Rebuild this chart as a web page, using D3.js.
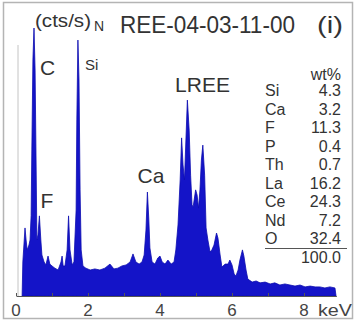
<!DOCTYPE html>
<html><head><meta charset="utf-8">
<script src="https://cdn.jsdelivr.net/npm/d3@7"></script>
<style>html,body{margin:0;padding:0;background:#fff;}svg{display:block;}</style>
</head><body>
<svg id="c" width="356" height="329"></svg>
<script>
// Spectrum (energy in keV, normalised counts)
const energy = [0.17,0.19,0.25,0.28,0.31,0.33,0.36,0.39,0.42,0.44,0.47,0.50,0.53,0.56,0.58,0.61,0.65,0.69,0.72,0.78,0.83,0.89,0.94,1.00,1.08,1.17,1.25,1.28,1.31,1.36,1.42,1.46,1.50,1.56,1.61,1.67,1.69,1.72,1.75,1.78,1.81,1.86,1.94,2.06,2.19,2.33,2.47,2.61,2.72,2.83,2.94,3.06,3.17,3.25,3.33,3.42,3.50,3.56,3.61,3.65,3.69,3.72,3.78,3.86,3.94,4.00,4.06,4.14,4.22,4.31,4.39,4.44,4.50,4.56,4.60,4.64,4.68,4.72,4.76,4.81,4.85,4.89,4.92,4.99,5.03,5.07,5.11,5.15,5.19,5.24,5.28,5.33,5.39,5.44,5.50,5.57,5.61,5.67,5.72,5.81,5.89,5.94,6.00,6.06,6.11,6.17,6.22,6.29,6.33,6.39,6.44,6.56,6.67,6.78,6.92,7.06,7.19,7.33,7.47,7.61,7.75,7.89,8.03,8.17,8.31,8.44,8.58,8.72,8.86,8.89];
const counts = [0,12.7,25.4,20.9,17.2,17.9,19.0,20.9,30.0,54.5,88.1,100,84.3,47.0,20.9,22.8,29.9,20.9,15.3,12.7,11.6,14.9,11.9,11.2,10.4,9.7,12.7,14.9,11.2,11.2,17.2,29.9,17.2,11.6,12.7,32.1,65.7,95.5,80.6,39.6,17.2,11.2,10.4,9.7,10.1,9.7,10.4,11.9,10.1,10.4,11.2,11.6,12.7,15.7,12.7,11.9,12.7,15.3,24.6,38.8,28.4,17.9,12.7,11.9,14.2,14.9,12.7,11.9,13.4,11.9,12.7,17.2,26.5,43.3,59.0,48.9,43.3,58.2,73.1,61.9,45.1,34.0,33.2,39.6,37.7,32.8,39.6,50.7,56.3,45.1,25.4,20.9,16.4,17.2,19.0,23.5,21.6,15.3,10.8,11.9,11.9,13.4,11.6,8.2,7.5,9.7,13.4,17.2,14.9,9.7,6.3,5.2,5.6,4.9,5.2,4.5,4.9,4.1,4.5,4.1,3.7,4.1,3.4,3.7,3.4,3.4,3.0,3.4,3.0,0];

const xTicks = [0,1,2,3,4,5,6,7,8];
const xTickLabels = [0,2,4,6,8];

// Peak labels: text, energy, counts (anchor point)
const peakNames = ["C","Si","F","Ca","LREE"];
const peakE = [0.88,1.92,0.86,3.75,5.18];
const peakC = [82.5,84.3,32.8,42.2,76.1];
const peakSize = [21,15,21,21,21];

// Composition table
const elements = ["Si","Ca","F","P","Th","La","Ce","Nd","O"];
const wtPct = ["4.3","3.2","11.3","0.4","0.7","16.2","24.3","7.2","32.4"];
const total = "100.0";

const svg = d3.select("#c");
const x = d3.scaleLinear().domain([0, 8.9]).range([16, 336.4]);
const y = d3.scaleLinear().domain([0, 100]).range([296, 28]);
const FONT = "Liberation Sans, Arial, sans-serif";
const TXT = "#333";

// frame
svg.append("rect").attr("x",3.5).attr("y",2.5).attr("width",349).attr("height",316)
  .attr("fill","none").attr("stroke","#b4b4b4").attr("stroke-width",1.5);

// faint y axis line
svg.append("line").attr("x1",18).attr("x2",18).attr("y1",45).attr("y2",y(0))
  .attr("stroke","#c4c4c4").attr("stroke-width",1);

// spectrum
const pts = energy.map((e,i)=>[e,counts[i]]);
const area = d3.area().x(d=>x(d[0])).y0(y(0)).y1(d=>y(d[1])).curve(d3.curveLinear);
svg.append("path").datum(pts).attr("d",area)
  .attr("fill","#1414c8").attr("stroke","#0c0cb0").attr("stroke-width",0.8).attr("stroke-linejoin","round");

// x axis
const ax = svg.append("g").attr("transform",`translate(0,${y(0)})`)
  .call(d3.axisBottom(x).tickValues(xTicks).tickSizeInner(-3).tickSizeOuter(0).tickFormat(""));
ax.select(".domain").attr("stroke","#555");
ax.selectAll(".tick line").attr("stroke","#555");

svg.selectAll("text.xl").data(xTickLabels).enter().append("text").attr("class","xl")
  .attr("x",d=>x(d)).attr("y",316).attr("text-anchor","middle")
  .attr("font-family",FONT).attr("font-size",17).attr("fill","#444").text(d=>d);
svg.append("text").attr("x",318).attr("y",316).attr("font-family",FONT).attr("font-size",17)
  .attr("fill","#444").attr("textLength",34).attr("lengthAdjust","spacingAndGlyphs").text("keV");

// header
svg.append("text").attr("x",35).attr("y",27).attr("font-family",FONT).attr("font-size",18)
  .attr("fill",TXT).attr("textLength",56).attr("lengthAdjust","spacingAndGlyphs").text("(cts/s)");
svg.append("text").attr("x",94).attr("y",31).attr("font-family",FONT).attr("font-size",14)
  .attr("fill",TXT).text("N");
svg.append("text").attr("x",120).attr("y",33).attr("font-family",FONT).attr("font-size",24)
  .attr("fill",TXT).attr("textLength",175).attr("lengthAdjust","spacingAndGlyphs").text("REE-04-03-11-00");
svg.append("text").attr("x",317).attr("y",33).attr("font-family",FONT).attr("font-size",24)
  .attr("fill",TXT).attr("textLength",26).attr("lengthAdjust","spacingAndGlyphs").text("(i)");

// peak labels
svg.selectAll("text.pk").data(peakNames).enter().append("text").attr("class","pk")
  .attr("x",(d,i)=>x(peakE[i])).attr("y",(d,i)=>y(peakC[i]))
  .attr("text-anchor",(d,i)=> d==="Si" ? "start" : "middle")
  .attr("font-family",FONT).attr("font-size",(d,i)=>peakSize[i]).attr("fill",TXT).text(d=>d);

// table
const rowY = i => 96 + i*18.5;
svg.append("text").attr("x",341).attr("y",80).attr("text-anchor","end")
  .attr("font-family",FONT).attr("font-size",16).attr("fill",TXT).text("wt%");
svg.selectAll("text.el").data(elements).enter().append("text").attr("class","el")
  .attr("x",265).attr("y",(d,i)=>rowY(i)).attr("font-family",FONT).attr("font-size",16)
  .attr("fill",TXT).text(d=>d);
svg.selectAll("text.wv").data(wtPct).enter().append("text").attr("class","wv")
  .attr("x",341).attr("y",(d,i)=>rowY(i)).attr("text-anchor","end").attr("font-family",FONT)
  .attr("font-size",16).attr("fill",TXT).text(d=>d);
svg.append("line").attr("x1",265).attr("x2",347).attr("y1",248.5).attr("y2",248.5)
  .attr("stroke","#555").attr("stroke-width",1);
svg.append("text").attr("x",341).attr("y",263).attr("text-anchor","end").attr("font-family",FONT)
  .attr("font-size",16).attr("fill",TXT).text(total);
</script>
</body></html>
